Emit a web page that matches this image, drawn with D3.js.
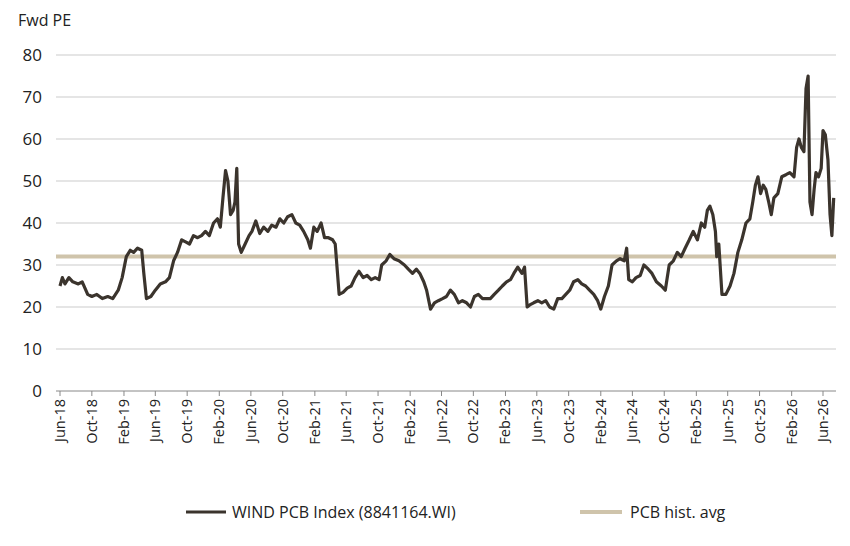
<!DOCTYPE html>
<html><head><meta charset="utf-8">
<script src="https://cdn.jsdelivr.net/npm/d3@7"></script>
<style>body{margin:0;background:#fff;font-family:"Open Sans","Noto Sans",sans-serif;}</style>
</head><body><svg id="c" width="850" height="546"></svg>
<script>
const dates = ["2018-06-01","2018-06-10","2018-06-20","2018-07-05","2018-07-20","2018-08-10","2018-08-25","2018-09-15","2018-10-01","2018-10-20","2018-11-10","2018-12-01","2018-12-20","2019-01-10","2019-01-25","2019-02-10","2019-02-25","2019-03-10","2019-03-25","2019-04-10","2019-04-18","2019-04-28","2019-05-15","2019-06-01","2019-06-20","2019-07-10","2019-07-25","2019-08-10","2019-08-25","2019-09-10","2019-09-25","2019-10-10","2019-10-25","2019-11-10","2019-11-25","2019-12-10","2019-12-25","2020-01-10","2020-01-25","2020-02-05","2020-02-15","2020-02-25","2020-03-05","2020-03-15","2020-03-25","2020-04-01","2020-04-08","2020-04-15","2020-04-25","2020-05-10","2020-05-25","2020-06-05","2020-06-20","2020-07-05","2020-07-20","2020-08-05","2020-08-20","2020-09-05","2020-09-20","2020-10-05","2020-10-20","2020-11-05","2020-11-20","2020-12-05","2020-12-20","2021-01-05","2021-01-15","2021-01-28","2021-02-10","2021-02-25","2021-03-10","2021-03-25","2021-04-10","2021-04-20","2021-05-05","2021-05-20","2021-06-05","2021-06-20","2021-07-05","2021-07-20","2021-08-05","2021-08-20","2021-09-05","2021-09-20","2021-10-05","2021-10-15","2021-11-01","2021-11-15","2021-12-01","2021-12-20","2022-01-10","2022-01-25","2022-02-10","2022-02-25","2022-03-10","2022-03-25","2022-04-05","2022-04-20","2022-05-05","2022-05-20","2022-06-05","2022-06-20","2022-07-05","2022-07-20","2022-08-05","2022-08-20","2022-09-05","2022-09-20","2022-10-05","2022-10-20","2022-11-05","2022-11-20","2022-12-05","2022-12-20","2023-01-05","2023-01-20","2023-02-05","2023-02-20","2023-03-05","2023-03-20","2023-04-05","2023-04-15","2023-04-25","2023-05-05","2023-05-20","2023-06-05","2023-06-20","2023-07-05","2023-07-20","2023-08-05","2023-08-20","2023-09-05","2023-09-20","2023-10-05","2023-10-20","2023-11-05","2023-11-20","2023-12-05","2023-12-20","2024-01-05","2024-01-20","2024-02-01","2024-02-15","2024-03-01","2024-03-15","2024-04-01","2024-04-15","2024-05-01","2024-05-10","2024-05-18","2024-06-01","2024-06-15","2024-07-01","2024-07-15","2024-08-01","2024-08-15","2024-09-01","2024-09-20","2024-10-05","2024-10-20","2024-11-05","2024-11-20","2024-12-05","2024-12-20","2025-01-05","2025-01-20","2025-02-05","2025-02-20","2025-03-05","2025-03-15","2025-03-25","2025-04-05","2025-04-15","2025-04-20","2025-04-28","2025-05-10","2025-05-25","2025-06-10","2025-06-25","2025-07-10","2025-07-25","2025-08-10","2025-08-25","2025-09-05","2025-09-15","2025-09-25","2025-10-05","2025-10-15","2025-10-25","2025-11-05","2025-11-15","2025-11-25","2025-12-10","2025-12-25","2026-01-10","2026-01-25","2026-02-10","2026-02-20","2026-03-01","2026-03-10","2026-03-20","2026-03-28","2026-04-05","2026-04-12","2026-04-20","2026-04-28","2026-05-05","2026-05-15","2026-05-25","2026-06-01","2026-06-10","2026-06-20","2026-06-28","2026-07-05","2026-07-12"];
const pe = [25,27,25.5,27,26,25.5,26,23,22.5,23,22,22.5,22,24,27,32,33.5,33,34,33.5,28,22,22.5,24,25.5,26,27,31,33,36,35.5,35,37,36.5,37,38,37,40,41,39,46,52.5,50,42,43,45,53,35,33,35,37,38,40.5,37.5,39,38,39.5,39,41,40,41.5,42,40,39.5,38,36,34,39,38,40,36.5,36.5,36,35,23,23.5,24.5,25,27,28.5,27,27.5,26.5,27,26.5,30,31,32.5,31.5,31,30,29,28,29,28,26,24,19.5,21,21.5,22,22.5,24,23,21,21.5,21,20,22.5,23,22,22,22,23,24,25,26,26.5,28,29.5,28,29.5,20,20.5,21,21.5,21,21.5,20,19.5,22,22,23,24,26,26.5,25.5,25,24,23,21.5,19.5,22.5,25,30,31,31.5,31,34,26.5,26,27,27.5,30,29,28,26,25,24,30,31,33,32,34,36,38,36,40,39,43,44,42,38,32,35,23,23,25,28,33,36,40,41,45,49,51,47,49,48,45,42,46,47,51,51.5,52,51,58,60,58,57,72,75,45,42,48,52,51,53,62,61,55,42,37,46];
const histAvg = 32;
const yTicks = [0,10,20,30,40,50,60,70,80];
const seriesNames = ["WIND PCB Index (8841164.WI)","PCB hist. avg"];

const svg = d3.select("#c");
const parse = d3.timeParse("%Y-%m-%d");
const data = dates.map((d,i)=>({d:parse(d), v:pe[i]}));
const x = d3.scaleTime().domain([parse("2018-06-01"), parse("2026-06-01")]).range([60, 823]);
const y = d3.scaleLinear().domain([0,80]).range([391,55]);
const L=56, R=836;

svg.append("g").selectAll("line").data(yTicks.filter(t=>t>0)).join("line")
 .attr("x1",L).attr("x2",R).attr("y1",d=>y(d)).attr("y2",d=>y(d))
 .attr("stroke","#dcdcdc").attr("stroke-width",1.5);
svg.append("g").selectAll("text").data(yTicks).join("text")
 .attr("x",42).attr("y",d=>y(d)+6).attr("text-anchor","end")
 .attr("font-size",17).attr("fill","#222").text(d=>d);
svg.append("text").attr("x",18).attr("y",26).attr("font-size",16).attr("fill","#222").text("Fwd PE");

const xTicks = d3.timeMonth.range(parse("2018-06-01"), parse("2026-07-01"), 4);
const fmt = d3.timeFormat("%b-%y");
svg.append("line").attr("x1",L).attr("x2",R).attr("y1",y(0)).attr("y2",y(0)).attr("stroke","#888").attr("stroke-width",1);
const xg = svg.append("g");
xTicks.forEach(t=>{
  xg.append("line").attr("x1",x(t)).attr("x2",x(t)).attr("y1",y(0)).attr("y2",y(0)+5).attr("stroke","#888");
  xg.append("text").attr("transform",`translate(${x(t)+5},${y(0)+8}) rotate(-90)`)
   .attr("text-anchor","end").attr("font-size",14.5).attr("fill","#222").text(fmt(t));
});

svg.append("line").attr("x1",L).attr("x2",R).attr("y1",y(histAvg)).attr("y2",y(histAvg))
 .attr("stroke","#cfc4ab").attr("stroke-width",4);
svg.append("path").datum(data).attr("fill","none").attr("stroke","#3b342d").attr("stroke-width",3.2)
 .attr("stroke-linejoin","round").attr("d",d3.line().x(d=>x(d.d)).y(d=>y(d.v)));

const lg = svg.append("g");
lg.append("line").attr("x1",186).attr("x2",226).attr("y1",512).attr("y2",512).attr("stroke","#3b342d").attr("stroke-width",3.2);
lg.append("text").attr("x",232).attr("y",518).attr("font-size",16).attr("fill","#222").text(seriesNames[0]);
lg.append("line").attr("x1",580).attr("x2",622).attr("y1",512).attr("y2",512).attr("stroke","#cfc4ab").attr("stroke-width",4);
lg.append("text").attr("x",630).attr("y",518).attr("font-size",16).attr("fill","#222").text(seriesNames[1]);
</script></body></html>
